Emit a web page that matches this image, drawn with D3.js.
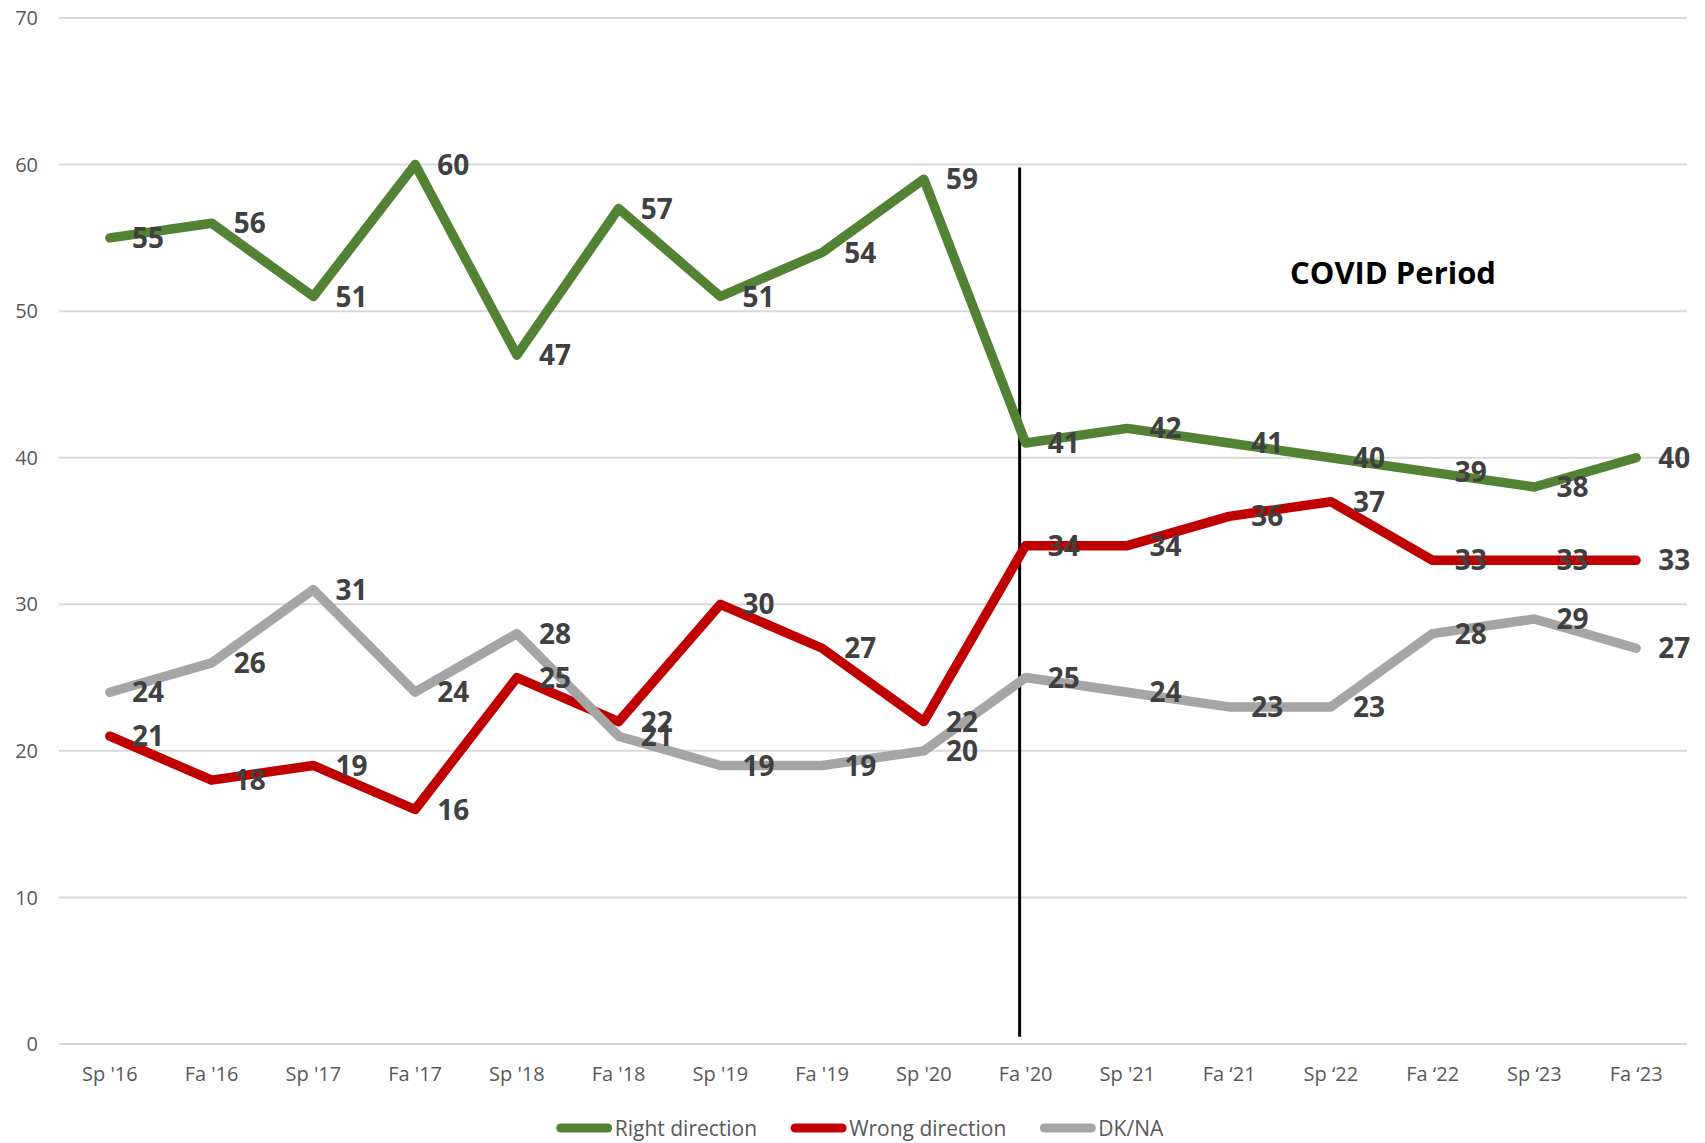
<!DOCTYPE html>
<html>
<head>
<meta charset="utf-8">
<script src="https://cdn.jsdelivr.net/npm/d3@7"></script>
<style>
  body { margin: 0; background: #fff; }
  text { font-family: "Open Sans", "Noto Sans", sans-serif; }
</style>
</head>
<body>
<script>
var categories = ["Sp '16", "Fa '16", "Sp '17", "Fa '17", "Sp '18", "Fa '18", "Sp '19", "Fa '19",
                  "Sp '20", "Fa '20", "Sp '21", "Fa \u201821", "Sp \u201822", "Fa \u201822", "Sp \u201823", "Fa \u201823"];
var rightDirection = [55, 56, 51, 60, 47, 57, 51, 54, 59, 41, 42, 41, 40, 39, 38, 40];
var wrongDirection = [21, 18, 19, 16, 25, 22, 30, 27, 22, 34, 34, 36, 37, 33, 33, 33];
var dkna = [24, 26, 31, 24, 28, 21, 19, 19, 20, 25, 24, 23, 23, 28, 29, 27];
var yTicks = [0, 10, 20, 30, 40, 50, 60, 70];
var covidStart = "Fa '20";
var covidLabel = "COVID Period";

var series = [
  {name: "Right direction", values: rightDirection, color: "#548235"},
  {name: "Wrong direction", values: wrongDirection, color: "#C00000"},
  {name: "DK/NA", values: dkna, color: "#A5A5A5"}
];

var width = 1705, height = 1143;
var margin = {top: 18, right: 18, bottom: 99, left: 59};

var svg = d3.select("body")
    .append("svg")
    .attr("width", width)
    .attr("height", height);

var x = d3.scalePoint()
    .domain(categories)
    .range([margin.left, width - margin.right])
    .padding(0.5);

var y = d3.scaleLinear()
    .domain([0, 70])
    .range([height - margin.bottom, margin.top]);

// gridlines
svg.append("g")
    .selectAll("line")
    .data(yTicks)
    .enter().append("line")
    .attr("x1", margin.left)
    .attr("x2", width - margin.right)
    .attr("y1", function(d) { return y(d); })
    .attr("y2", function(d) { return y(d); })
    .style("stroke", "#d9d9d9")
    .style("stroke-width", 2);

// y tick labels
svg.append("g")
    .selectAll("text")
    .data(yTicks)
    .enter().append("text")
    .attr("x", 38)
    .attr("y", function(d) { return y(d); })
    .attr("dy", "0.36em")
    .attr("text-anchor", "end")
    .style("font-size", "20px")
    .style("fill", "#595959")
    .text(function(d) { return d; });

// x tick labels
svg.append("g")
    .selectAll("text")
    .data(categories)
    .enter().append("text")
    .attr("x", function(d) { return x(d); })
    .attr("y", y(0) + 30)
    .attr("dy", "0.36em")
    .attr("text-anchor", "middle")
    .style("font-size", "20px")
    .style("fill", "#595959")
    .text(function(d) { return d; });

// covid marker
svg.append("line")
    .attr("x1", x(covidStart) - 6)
    .attr("x2", x(covidStart) - 6)
    .attr("y1", y(59.8))
    .attr("y2", y(0.5))
    .style("stroke", "#000")
    .style("stroke-width", 3);

svg.append("text")
    .attr("x", 1393)
    .attr("y", y(52.6))
    .attr("dy", "0.36em")
    .attr("text-anchor", "middle")
    .style("font-size", "31px")
    .style("font-weight", "bold")
    .style("fill", "#000")
    .text(covidLabel);

var line = d3.line()
    .x(function(d, i) { return x(categories[i]); })
    .y(function(d) { return y(d); });

svg.append("g")
    .selectAll("path")
    .data(series)
    .enter().append("path")
    .attr("d", function(s) { return line(s.values); })
    .style("fill", "none")
    .style("stroke", function(s) { return s.color; })
    .style("stroke-width", 9.5)
    .style("stroke-linejoin", "round")
    .style("stroke-linecap", "round");

// data labels
series.forEach(function(s) {
    svg.append("g")
        .selectAll("text")
        .data(s.values)
        .enter().append("text")
        .attr("x", function(d, i) { return x(categories[i]) + 22; })
        .attr("y", function(d) { return y(d); })
        .attr("dy", "0.36em")
        .style("font-size", "28px")
        .style("font-weight", "bold")
        .style("fill", "#404040")
        .text(function(d) { return d; });
});

// legend
var legend = svg.append("g").attr("class", "legend");
var lx = 0;
series.forEach(function(s) {
    var g = legend.append("g").attr("transform", "translate(" + lx + ",0)");
    g.append("line")
        .attr("x1", 4).attr("x2", 51)
        .attr("y1", 0).attr("y2", 0)
        .style("stroke", s.color)
        .style("stroke-width", 9)
        .style("stroke-linecap", "round");
    var t = g.append("text")
        .attr("x", 58)
        .attr("dy", "0.36em")
        .style("font-size", "21px")
        .style("fill", "#595959")
        .text(s.name);
    lx += 58 + t.node().getComputedTextLength() + 34;
});
lx -= 34;
legend.attr("transform", "translate(" + (860 - lx / 2) + "," + 1128 + ")");
</script>
</body>
</html>
